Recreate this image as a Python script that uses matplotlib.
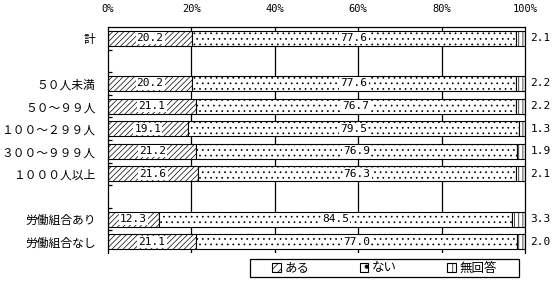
import numpy as np
import matplotlib
matplotlib.use('Agg')
import matplotlib.pyplot as plt
from matplotlib.patches import Patch, Rectangle

plt.rcParams['font.family'] = ['Noto Sans CJK JP', 'DejaVu Sans']
plt.rcParams['hatch.linewidth'] = 0.5

# data (blank rows are spacers)
cats = ['計', '', '５０人未満', '５０～９９人', '１００～２９９人', '３００～９９９人',
        '１０００人以上', '', '労働組合あり', '労働組合なし']
aru = [20.2, 0, 20.2, 21.1, 19.1, 21.2, 21.6, 0, 12.3, 21.1]
nai = [77.6, 0, 77.6, 76.7, 79.5, 76.9, 76.3, 0, 84.5, 77.0]
mukaito = [2.1, 0, 2.2, 2.2, 1.3, 1.9, 2.1, 0, 3.3, 2.0]
series_names = ['ある', 'ない', '無回答']
xticks = [0, 20, 40, 60, 80, 100]

hatches = ['//////', '...', '||||']

fig = plt.figure(figsize=(5.52, 2.81), dpi=100)
ax = fig.add_axes([108 / 552, 28 / 281, 417 / 552, 226 / 281])

y = np.arange(len(cats))
aru = np.array(aru)
nai = np.array(nai)
mukaito = np.array(mukaito)
show = np.array([c != '' for c in cats])

h = 0.66
lefts = [np.zeros(len(cats)), aru, aru + nai]
for vals, left, hat in zip([aru, nai, mukaito], lefts, hatches):
    ax.barh(y[show], vals[show], left=left[show], height=h, color='white',
            edgecolor='black', linewidth=0.8, hatch=hat, zorder=2)

lab_font = dict(family=['DejaVu Sans Mono'], fontsize=8)
for i in y[show]:
    ax.text(aru[i] / 2, i, '%.1f' % aru[i], ha='center', va='center', zorder=3,
            bbox=dict(facecolor='white', edgecolor='none', pad=0.8), **lab_font)
    ax.text(aru[i] + nai[i] / 2, i, '%.1f' % nai[i], ha='center', va='center', zorder=3,
            bbox=dict(facecolor='white', edgecolor='none', pad=0.8), **lab_font)
    ax.text(101.3, i, '%.1f' % mukaito[i], ha='left', va='center',
            clip_on=False, **lab_font)

for g in [20, 40, 60, 80]:
    ax.axvline(g, color='black', linewidth=0.9, zorder=1)

ax.set_xlim(0, 100)
ax.set_ylim(len(cats) - 0.5, -0.5)

ax.xaxis.tick_top()
ax.set_xticks(xticks)
ax.set_xticklabels(['%d%%' % t for t in xticks], family=['DejaVu Sans Mono'], fontsize=7.5)
ax.tick_params(axis='x', length=0, pad=9)

ax.set_yticks(y)
ax.set_yticklabels(cats, fontsize=8.5)
ax.tick_params(axis='y', which='major', length=0, pad=9)
ax.set_yticks(np.arange(0.5, len(cats) - 0.5, 1), minor=True)
ax.tick_params(axis='y', which='minor', direction='in', length=3, width=0.9)

ax.spines['bottom'].set_visible(False)
for s in ['left', 'top', 'right']:
    ax.spines[s].set_linewidth(0.9)

# legend box
fig.add_artist(Rectangle((250 / 552, 4 / 281), 269 / 552, 18 / 281,
                         transform=fig.transFigure, facecolor='white',
                         edgecolor='black', linewidth=0.9))
handles = [Patch(facecolor='white', edgecolor='black', hatch=hat, linewidth=0.8)
           for hat in ['////', '.', '|||']]
fig.legend(handles, series_names, loc='center', ncol=3, frameon=False,
           bbox_to_anchor=(384.5 / 552, 13 / 281), fontsize=9,
           handlelength=0.7, handleheight=0.7, handletextpad=0.3,
           columnspacing=4.0, borderpad=0, borderaxespad=0)

fig.savefig('out.png', dpi=100)
